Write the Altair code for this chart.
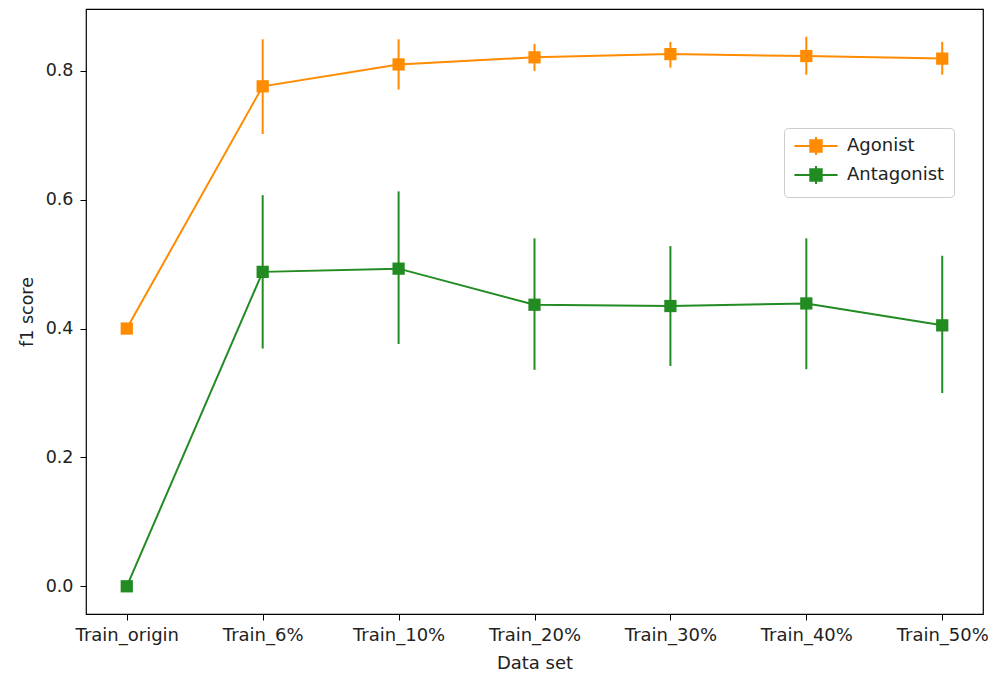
import altair as alt
import pandas as pd

categories = ["Train_origin", "Train_6%", "Train_10%", "Train_20%", "Train_30%", "Train_40%", "Train_50%"]
series_names = ["Agonist", "Antagonist"]

agonist_mean = [0.400, 0.776, 0.810, 0.821, 0.826, 0.823, 0.819]
agonist_lo = [0.400, 0.702, 0.771, 0.800, 0.805, 0.794, 0.794]
agonist_hi = [0.400, 0.849, 0.849, 0.842, 0.845, 0.853, 0.845]

antagonist_mean = [0.000, 0.488, 0.493, 0.437, 0.435, 0.439, 0.405]
antagonist_lo = [0.000, 0.369, 0.376, 0.336, 0.342, 0.337, 0.300]
antagonist_hi = [0.000, 0.607, 0.613, 0.540, 0.528, 0.540, 0.513]

colors = ["#FF8C00", "#228B22"]

rows = []
for name, m, lo, hi in [("Agonist", agonist_mean, agonist_lo, agonist_hi),
                        ("Antagonist", antagonist_mean, antagonist_lo, antagonist_hi)]:
    for i, c in enumerate(categories):
        rows.append({"dataset": c, "series": name, "value": m[i], "lo": lo[i], "hi": hi[i], "order": i})
df = pd.DataFrame(rows)

FONT = "DejaVu Sans"

x_enc = alt.X("dataset:N", sort=categories,
              scale=alt.Scale(type="point", padding=0.3),
              axis=alt.Axis(title="Data set", labelAngle=0))
y_scale = alt.Scale(domain=[-0.043, 0.896], nice=False, zero=False)
y_axis = alt.Axis(title="f1 score", values=[0.0, 0.2, 0.4, 0.6, 0.8], format=".1f")

legend_path = "M-3.6,0H3.6M0,-1.5V1.5M-0.95,-0.95H0.95V0.95H-0.95Z"

color_enc = alt.Color("series:N", sort=series_names,
                      scale=alt.Scale(domain=series_names, range=colors),
                      legend=alt.Legend(title=None, orient="none", legendX=698, legendY=119,
                                        symbolType=legend_path, symbolSize=144,
                                        symbolStrokeWidth=2, symbolOffset=14,
                                        labelOffset=22, labelFontSize=18, labelFont=FONT,
                                        padding=9, rowPadding=3,
                                        strokeColor="#cccccc", fillColor="white",
                                        cornerRadius=4, labelColor="#222222"))

base = alt.Chart(df)

lines = base.mark_line(strokeWidth=2).encode(
    x=x_enc, y=alt.Y("value:Q", scale=y_scale, axis=y_axis),
    color=color_enc, order="order:Q")

errs = base.mark_rule(strokeWidth=2).encode(
    x=x_enc, y=alt.Y("lo:Q", scale=y_scale, axis=y_axis), y2="hi:Q",
    color=color_enc)

pts = base.mark_point(shape="square", filled=True, size=150, opacity=1).encode(
    x=x_enc, y=alt.Y("value:Q", scale=y_scale, axis=y_axis),
    color=color_enc)

chart = alt.layer(errs, lines, pts).properties(
    width=897, height=605,
    background="white",
    autosize=alt.AutoSizeParams(type="none"),
    padding={"left": 78, "top": 1, "right": 5, "bottom": 57},
).configure_view(
    stroke="black", strokeWidth=1.2
).configure_axis(
    grid=False, domain=False,
    tickColor="black", tickSize=6, tickWidth=1,
    labelFont=FONT, labelFontSize=17.5, labelColor="#222222",
    titleFont=FONT, titleFontSize=17.5, titleFontWeight="normal", titleColor="#222222",
).configure_axisY(
    labelPadding=7, titlePadding=9
).configure_axisX(
    labelFontSize=18, titleFontSize=18,
    labelPadding=6, titlePadding=10
)

chart.save("out.html", embed_options={"renderer": "svg", "actions": False})
